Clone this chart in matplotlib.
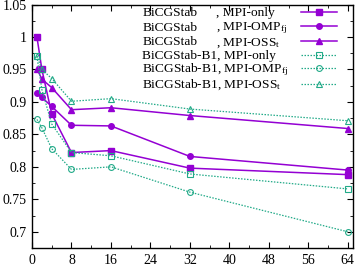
import matplotlib
matplotlib.use("Agg")
import matplotlib.pyplot as plt
from matplotlib.lines import Line2D
from matplotlib.ticker import MultipleLocator, FuncFormatter

plt.rcParams['font.family'] = ['Liberation Serif', 'DejaVu Serif']
plt.rcParams['mathtext.fontset'] = 'custom'
plt.rcParams['mathtext.rm'] = 'Liberation Serif'
plt.rcParams['mathtext.it'] = 'Liberation Serif:italic'

threads = [1, 2, 4, 8, 16, 32, 64]
bicg_mpi_only = [1.0, 0.95, 0.8815, 0.822, 0.825, 0.798, 0.788]
bicg_mpi_omp = [0.913, 0.907, 0.893, 0.864, 0.863, 0.816, 0.795]
bicg_mpi_oss = [0.951, 0.935, 0.922, 0.888, 0.891, 0.879, 0.859]
b1_mpi_only = [0.970, 0.919, 0.866, 0.822, 0.817, 0.789, 0.766]
b1_mpi_omp = [0.873, 0.860, 0.828, 0.796, 0.800, 0.761, 0.700]
b1_mpi_oss = [0.971, 0.950, 0.936, 0.901, 0.905, 0.889, 0.871]

solvers = ["BiCGStab", "BiCGStab", "BiCGStab", "BiCGStab-B1", "BiCGStab-B1", "BiCGStab-B1"]
modes = ["MPI-only", "MPI-OMP$_{\\mathrm{fj}}$", "MPI-OSS$_{\\mathrm{t}}$",
         "MPI-only", "MPI-OMP$_{\\mathrm{fj}}$", "MPI-OSS$_{\\mathrm{t}}$"]

purple = "#9400d3"
green = "#22aa88"
dot = (0, (1.2, 1.2))

W, H = 357, 267
fig = plt.figure(figsize=(W / 100, H / 100), dpi=100)
L, R, T, B = 32, 352.7, 4.5, 248
ax = fig.add_axes([L / W, 1 - B / H, (R - L) / W, (B - T) / H])

series = [
    (bicg_mpi_only, dict(color=purple, lw=1.1, marker='s', ms=4.0)),
    (bicg_mpi_omp, dict(color=purple, lw=1.1, marker='o', ms=4.0)),
    (bicg_mpi_oss, dict(color=purple, lw=1.1, marker='^', ms=3.8)),
    (b1_mpi_only, dict(color=green, lw=0.9, ls=dot, marker='s', ms=4.2, mfc='none', mew=0.8)),
    (b1_mpi_omp, dict(color=green, lw=0.9, ls=dot, marker='o', ms=4.2, mfc='none', mew=0.8)),
    (b1_mpi_oss, dict(color=green, lw=0.9, ls=dot, marker='^', ms=4.4, mfc='none', mew=0.8)),
]
for vals, kw in series:
    ax.plot(threads, vals, **kw)

ax.set_xlim(0, 65)
ax.set_ylim(0.675, 1.05)
ax.xaxis.set_major_locator(MultipleLocator(8))
ax.xaxis.set_minor_locator(MultipleLocator(4))
ax.yaxis.set_major_locator(MultipleLocator(0.05))
ax.yaxis.set_minor_locator(MultipleLocator(0.025))
ax.yaxis.set_major_formatter(FuncFormatter(lambda v, p: f"{v:g}"))
ax.tick_params(which='both', direction='in', top=True, right=True, labelsize=10, pad=4)
ax.tick_params(which='major', length=4, width=0.8)
ax.tick_params(which='minor', length=2, width=0.6)
for s in ax.spines.values():
    s.set_linewidth(1.0)

# gnuplot-style key: left-justified text, sample to the right
fs = 9.6
baselines = [16.3, 30.6, 45.4, 59.4, 72.4, 88.2]
x_text, x_comma = 142.3, 215.5
x0, x1 = 301, 336.7
for i, (vals, kw) in enumerate(series):
    yb = baselines[i]
    if solvers[i] == "BiCGStab":
        fig.text(x_text / W, 1 - yb / H, solvers[i], fontsize=fs, va='baseline', ha='left')
        fig.text(x_comma / W, 1 - yb / H, ", " + modes[i], fontsize=fs, va='baseline', ha='left')
    else:
        fig.text(x_text / W, 1 - yb / H, solvers[i] + ", " + modes[i], fontsize=fs,
                 va='baseline', ha='left')
    yl = 1 - (yb - 4.2) / H
    fig.add_artist(Line2D([x0 / W, (x0 + x1) / 2 / W, x1 / W], [yl, yl, yl],
                          markevery=[1], **kw))

fig.savefig("out.png", dpi=100)
